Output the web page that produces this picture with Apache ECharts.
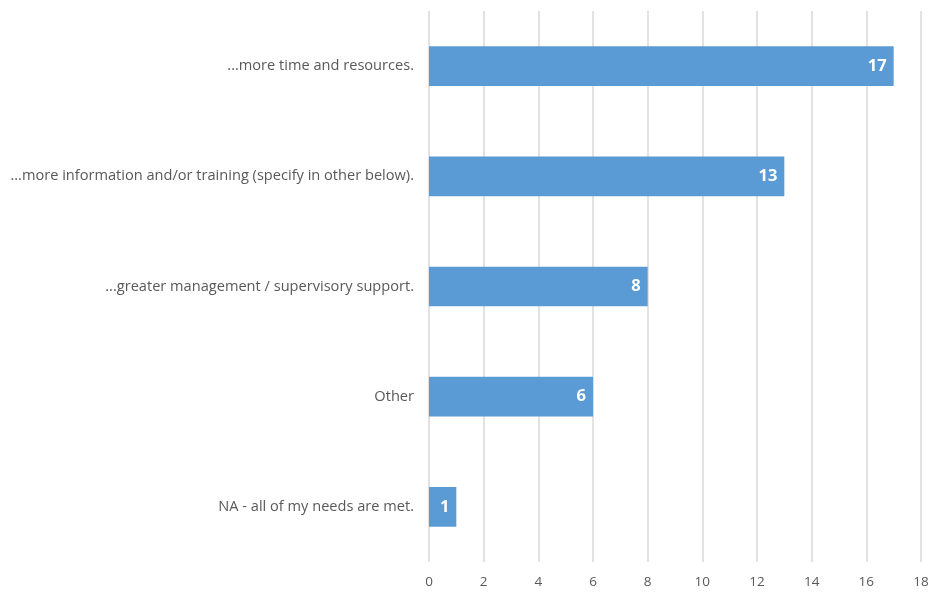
<!DOCTYPE html>
<html>
<head>
<meta charset="utf-8">
<script src="https://cdn.jsdelivr.net/npm/echarts@6/dist/echarts.min.js"></script>
<style>
  html, body { margin: 0; padding: 0; background: #fff; }
  #chart { width: 935px; height: 595px; }
</style>
</head>
<body>
<div id="chart"></div>
<script>
// Responses, listed top to bottom
const categories = [
  '...more time and resources.',
  '...more information and/or training (specify in other below).',
  '...greater management / supervisory support.',
  'Other',
  'NA - all of my needs are met.'
];
const counts = [17, 13, 8, 6, 1];
const xTicks = [0, 2, 4, 6, 8, 10, 12, 14, 16, 18];

const chart = echarts.init(document.getElementById('chart'));
chart.setOption({
  animation: false,
  backgroundColor: '#ffffff',
  grid: { left: 429, right: 14, top: 11, bottom: 33, containLabel: false },
  xAxis: {
    type: 'value',
    min: xTicks[0],
    max: xTicks[xTicks.length - 1],
    interval: 2,
    axisLine: { show: false },
    axisTick: { show: false },
    splitLine: { show: true, lineStyle: { color: '#d9d9d9', width: 1.5 } },
    axisLabel: { color: '#595959', fontFamily: 'Open Sans', fontSize: 13.5, margin: 13 }
  },
  yAxis: {
    type: 'category',
    inverse: true,
    data: categories,
    axisLine: { show: false },
    axisTick: { show: false },
    axisLabel: { color: '#595959', fontFamily: 'Open Sans', fontSize: 14.6, margin: 15 }
  },
  series: [{
    type: 'bar',
    data: counts,
    barWidth: '36%',
    itemStyle: { color: '#5b9bd5' },
    label: {
      show: true,
      position: 'insideRight',
      color: '#ffffff',
      fontFamily: 'Open Sans',
      fontWeight: 'bold',
      fontSize: 16.5,
      offset: [-2, 0]
    }
  }]
});
</script>
</body>
</html>
